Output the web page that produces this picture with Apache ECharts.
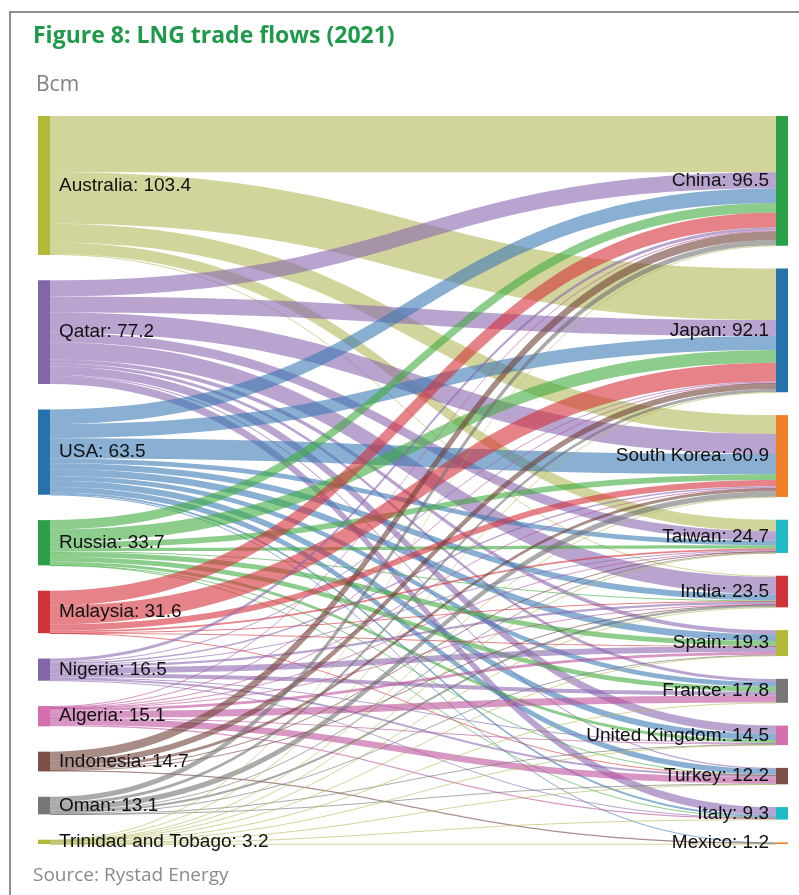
<!DOCTYPE html>
<html>
<head>
<meta charset="utf-8">
<script src="https://cdn.jsdelivr.net/npm/echarts@6/dist/echarts.min.js"></script>
<style>
  html, body { margin: 0; padding: 0; background: #ffffff; }
  #chart { width: 799px; height: 895px; }
</style>
</head>
<body>
<div id="chart"></div>
<script>
// LNG exporters (left column) and their 2021 totals, bcm
const exporters = ['Australia', 'Qatar', 'USA', 'Russia', 'Malaysia', 'Nigeria', 'Algeria', 'Indonesia', 'Oman', 'Trinidad and Tobago'];
const exporterTotals = [103.4, 77.2, 63.5, 33.7, 31.6, 16.5, 15.1, 14.7, 13.1, 3.2];

// LNG importers (right column) and their 2021 totals, bcm
const importers = ['China', 'Japan', 'South Korea', 'Taiwan', 'India', 'Spain', 'France', 'United Kingdom', 'Turkey', 'Italy', 'Mexico'];
const importerTotals = [96.5, 92.1, 60.9, 24.7, 23.5, 19.3, 17.8, 14.5, 12.2, 9.3, 1.2];

// Flows per exporter, one value per importer in the order above (bcm)
const fromAustralia = [41.8, 38.3, 14.0, 8.5, 0.8, 0, 0, 0, 0, 0, 0];
const fromQatar     = [12.0, 12.0, 15.0, 7.0, 12.9, 3.0, 2.3, 6.1, 0.8, 6.1, 0];
const fromUSA       = [11.0, 10.4, 15.1, 3.5, 4.5, 5.0, 3.6, 4.6, 4.2, 1.4, 0.2];
const fromRussia    = [7.0, 9.5, 4.2, 2.4, 0.6, 3.7, 3.6, 2.2, 0.3, 0.2, 0];
const fromMalaysia  = [11.2, 13.8, 4.7, 1.2, 0.5, 0.1, 0, 0, 0.1, 0, 0];
const fromNigeria   = [2.2, 0.9, 1.0, 0.8, 1.8, 4.5, 2.9, 0.5, 1.5, 0.4, 0];
const fromAlgeria   = [0.6, 0.2, 0.5, 0.1, 0.3, 2.0, 5.2, 0.4, 4.8, 1.0, 0];
const fromIndonesia = [6.4, 4.5, 2.2, 0.6, 0.2, 0, 0, 0, 0, 0, 0.8];
const fromOman      = [4.0, 2.3, 4.0, 0.4, 1.7, 0.3, 0, 0.2, 0.2, 0, 0];
const fromTrinidad  = [0.3, 0.2, 0.2, 0.2, 0.2, 0.7, 0.2, 0.5, 0.3, 0.2, 0.2];

const flowRows = [fromAustralia, fromQatar, fromUSA, fromRussia, fromMalaysia,
                  fromNigeria, fromAlgeria, fromIndonesia, fromOman, fromTrinidad];

// ---- colours ----
const exporterColors = ['#b2b935', '#8266a8', '#2673ab', '#2ca048', '#d2323a', '#8266a8', '#d56fae', '#7d4f46', '#777777', '#b2b935'];
const importerColors = ['#2ca048', '#2673ab', '#f07f2a', '#1fbcc8', '#d2323a', '#b2b935', '#777777', '#d56fae', '#7d4f46', '#1fbcc8', '#f07f2a'];
// ribbon colours follow the exporter, drawn semi-transparent
const flowColors = ['#b4b958', '#8a68b0', '#3a7ab4', '#40ac40', '#d5303a', '#8a68b0', '#bc509b', '#713f37', '#717171', '#b4b958'];
const FLOW_OPACITY = 0.6;

// ---- layout parameters ----
const VIEW_H = 895;
const TOP = 116, BOTTOM = 51, LEFT = 38, RIGHT = 11;
const NODE_W = 12, NODE_GAP = 22.8;
const H = VIEW_H - TOP - BOTTOM;

// ECharts scales node heights from the taller (right) column; the left
// column is spread over the full height with its own, wider gap.
const grandTotal = exporterTotals.reduce((a, b) => a + b, 0);
const ky = (H - (importers.length - 1) * NODE_GAP) / grandTotal;
const leftGap = (H - grandTotal * ky) / (exporters.length - 1);

const nodes = [];
let acc = 0;
exporters.forEach((name, i) => {
  nodes.push({
    name: name,
    value: exporterTotals[i],
    localY: acc / H,
    itemStyle: { color: exporterColors[i] },
    label: { position: 'right', distance: 9 }
  });
  acc += exporterTotals[i] * ky + leftGap;
});
importers.forEach((name, j) => {
  nodes.push({
    name: name,
    value: importerTotals[j],
    itemStyle: { color: importerColors[j] },
    label: { position: 'left', distance: 7 }
  });
});

const links = [];
flowRows.forEach((row, i) => {
  row.forEach((v, j) => {
    if (v > 0) {
      links.push({
        source: exporters[i],
        target: importers[j],
        value: v,
        lineStyle: { color: flowColors[i] }
      });
    }
  });
});

const totalsByName = {};
exporters.forEach((n, i) => { totalsByName[n] = exporterTotals[i]; });
importers.forEach((n, j) => { totalsByName[n] = importerTotals[j]; });

const chart = echarts.init(document.getElementById('chart'), null, { renderer: 'canvas' });

chart.setOption({
  backgroundColor: '#ffffff',
  animation: false,
  graphic: [
    {
      type: 'rect',
      silent: true,
      z: -10,
      shape: { x: 10, y: 12, width: 820, height: 920 },
      style: { fill: 'none', stroke: '#8f8f8f', lineWidth: 2 }
    },
    {
      type: 'text',
      left: 33, top: 25,
      style: {
        text: 'Figure 8: LNG trade flows (2021)',
        fontFamily: 'Open Sans', fontWeight: 'bold', fontSize: 23,
        fill: '#1f9a4a'
      }
    },
    {
      type: 'text',
      left: 36, top: 75,
      style: {
        text: 'Bcm',
        fontFamily: 'Open Sans', fontSize: 21,
        fill: '#808080'
      }
    },
    {
      type: 'text',
      left: 33, top: 866,
      style: {
        text: 'Source: Rystad Energy',
        fontFamily: 'Open Sans', fontSize: 19,
        fill: '#8a8a8a'
      }
    }
  ],
  series: [{
    type: 'sankey',
    left: LEFT, right: RIGHT, top: TOP, bottom: BOTTOM,
    nodeWidth: NODE_W,
    nodeGap: NODE_GAP,
    layoutIterations: 0,
    draggable: false,
    emphasis: { disabled: true },
    data: nodes,
    links: links,
    itemStyle: { borderWidth: 0 },
    lineStyle: { opacity: FLOW_OPACITY, curveness: 0.5 },
    label: {
      show: true,
      fontFamily: 'Liberation Sans',
      fontSize: 19,
      color: '#111111',
      formatter: (p) => p.name + ': ' + totalsByName[p.name].toFixed(1)
    }
  }]
});
</script>
</body>
</html>
